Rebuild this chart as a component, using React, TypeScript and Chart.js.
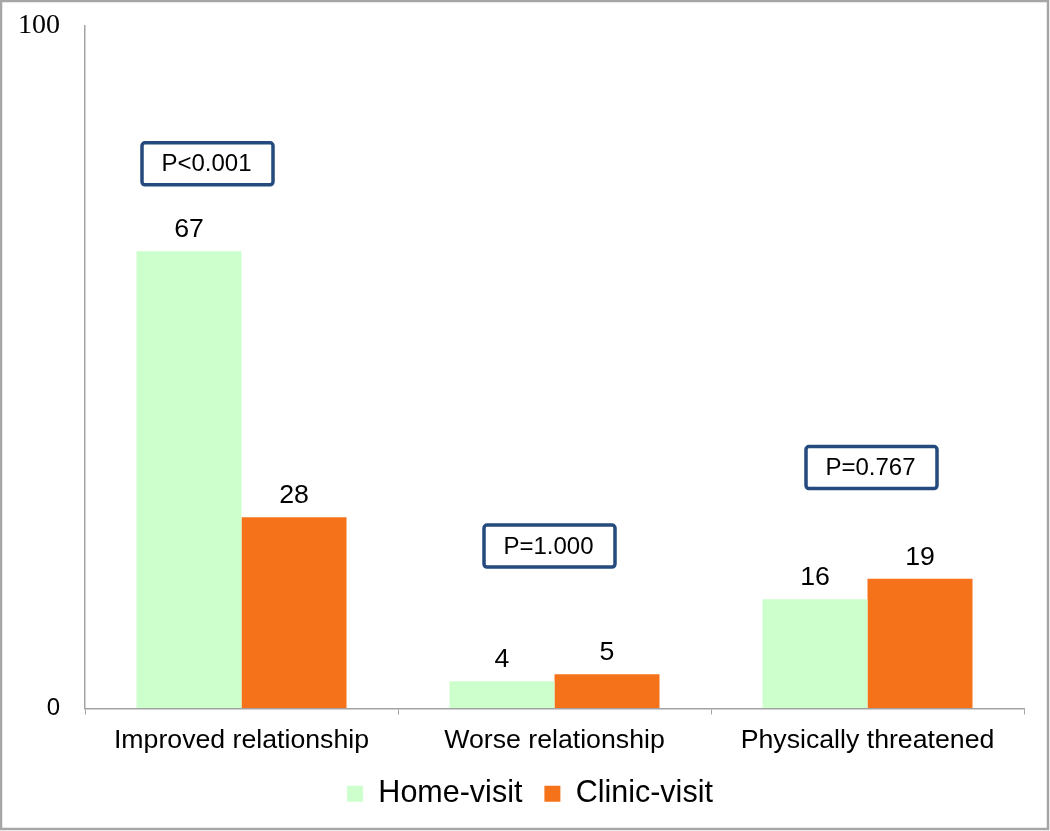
import React, { useEffect, useRef } from "react";
import { Chart, registerables } from "chart.js";

Chart.register(...registerables);

// ---- data ----
const categories = ["Improved relationship", "Worse relationship", "Physically threatened"];
const seriesNames = ["Home-visit", "Clinic-visit"];
const homeVisit = [67, 4, 16];
const clinicVisit = [28, 5, 19];
const pLabels = ["P<0.001", "P=1.000", "P=0.767"];
const yTickValues = [0, 100];

// ---- annotation placement (kept separate from data) ----
const pBoxLayout = {
  yValue: [79.8, 23.8, 35.3],
  dx: [-34, -5, 4],
  width: 131,
  height: 42,
};
const LEGEND_SHIFT_X = 9;

const SANS = "'Liberation Sans', Arial, sans-serif";
const SERIF = "'Liberation Serif', 'DejaVu Serif', serif";
const AXIS_GREY = "#a3a3a3";

const overlayPlugin = {
  id: "overlay",
  afterLayout(chart: any) {
    if (chart.legend) {
      chart.legend.left += LEGEND_SHIFT_X;
      chart.legend.right += LEGEND_SHIFT_X;
    }
  },
  afterDatasetsDraw(chart: any) {
    const ctx = chart.ctx;
    ctx.save();
    // value labels
    ctx.font = `26.7px ${SANS}`;
    ctx.fillStyle = "#000";
    ctx.textAlign = "center";
    ctx.textBaseline = "alphabetic";
    chart.data.datasets.forEach((ds: any, i: number) => {
      const meta = chart.getDatasetMeta(i);
      meta.data.forEach((bar: any, j: number) => {
        ctx.fillText(String(ds.data[j]), bar.x, bar.y - 14);
      });
    });
    // p-value boxes
    const xs = chart.scales.x;
    const ys = chart.scales.y;
    pLabels.forEach((t, i) => {
      const cx = xs.getPixelForValue(i) + pBoxLayout.dx[i];
      const cy = ys.getPixelForValue(pBoxLayout.yValue[i]);
      const w = pBoxLayout.width;
      const h = pBoxLayout.height;
      ctx.beginPath();
      ctx.roundRect(cx - w / 2, cy - h / 2, w, h, 3);
      ctx.fillStyle = "#fff";
      ctx.fill();
      ctx.lineWidth = 3.5;
      ctx.strokeStyle = "#254a7d";
      ctx.stroke();
      ctx.fillStyle = "#000";
      ctx.font = `24px ${SANS}`;
      ctx.textBaseline = "middle";
      ctx.fillText(t, cx - 1, cy + 1);
    });
    ctx.restore();
  },
  afterDraw(chart: any) {
    const ctx = chart.ctx;
    ctx.save();
    ctx.strokeStyle = "#a6a6a6";
    ctx.lineWidth = 2.5;
    ctx.strokeRect(1, 1, chart.width - 3, chart.height - 3);
    ctx.restore();
  },
};

export default function App() {
  const ref = useRef<HTMLCanvasElement | null>(null);

  useEffect(() => {
    if (!ref.current) return;
    const chart = new Chart(ref.current, {
      type: "bar",
      data: {
        labels: categories,
        datasets: [
          {
            label: seriesNames[0],
            data: homeVisit,
            backgroundColor: "#ccffcc",
            borderWidth: 0,
          },
          {
            label: seriesNames[1],
            data: clinicVisit,
            backgroundColor: "#f5721a",
            borderWidth: 0,
          },
        ],
      },
      options: {
        responsive: false,
        animation: false,
        devicePixelRatio: 1,
        layout: { padding: { left: 18, top: 26, right: 26, bottom: 12 } },
        datasets: {
          bar: { categoryPercentage: 0.671, barPercentage: 1 },
        },
        plugins: {
          legend: {
            position: "bottom",
            labels: {
              font: { family: SANS, size: 30.5 },
              color: "#000",
              boxWidth: 16,
              boxHeight: 16,
              padding: 22,
            },
          },
          tooltip: { enabled: false },
        },
        scales: {
          x: {
            offset: true,
            afterFit: (scale: any) => {
              scale.paddingLeft = 0;
              scale.paddingRight = 0;
              scale.height = scale.height - 10;
            },
            grid: {
              display: true,
              drawOnChartArea: false,
              drawTicks: true,
              tickLength: 6,
              color: AXIS_GREY,
              offset: true,
            },
            border: { display: true, color: AXIS_GREY, width: 1.5 },
            ticks: {
              font: { family: SANS, size: 26.7 },
              color: "#000",
              padding: 10,
              maxRotation: 0,
            },
          },
          y: {
            min: 0,
            max: 100,
            afterBuildTicks: (scale: any) => {
              scale.ticks = yTickValues.map((v) => ({ value: v }));
            },
            afterFit: (scale: any) => {
              scale.paddingTop = 0;
              scale.paddingBottom = 0;
              scale.width = 67;
            },
            grid: {
              display: true,
              drawOnChartArea: false,
              drawTicks: false,
              color: AXIS_GREY,
            },
            border: { display: true, color: AXIS_GREY, width: 1.5 },
            ticks: {
              color: "#000",
              padding: 25,
              font: (ctx: any) =>
                ctx.tick && ctx.tick.value === 100
                  ? { family: SERIF, size: 28 }
                  : { family: SANS, size: 24 },
            },
          },
        },
      },
      plugins: [overlayPlugin],
    });
    return () => chart.destroy();
  }, []);

  return (
    <div style={{ position: "fixed", left: 0, top: 0, width: 1050, height: 831, background: "#fff" }}>
      <canvas ref={ref} width={1050} height={831} style={{ display: "block" }} />
    </div>
  );
}
